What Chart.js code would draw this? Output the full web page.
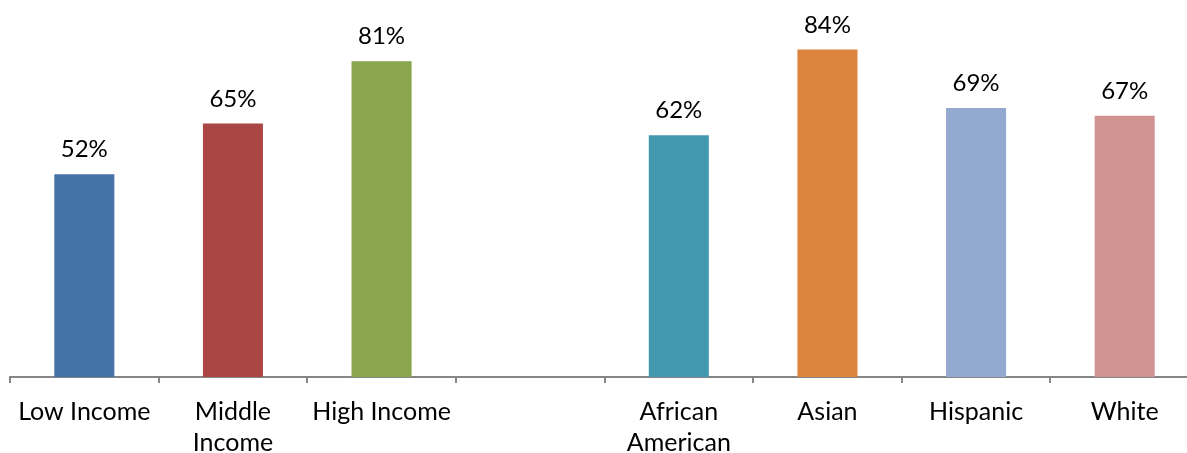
<!DOCTYPE html>
<html>
<head>
<meta charset="utf-8">
<script src="https://cdn.jsdelivr.net/npm/chart.js@4"></script>
<style>
  html, body { margin: 0; padding: 0; background: #fff; overflow: hidden; }
  #wrap { width: 1187px; height: 453px; overflow: hidden; }
  canvas { display: block; }
</style>
</head>
<body>
<div id="wrap"><canvas id="chart" width="1200" height="453"></canvas></div>
<script>
// --- Chart data ---
const categories = [['Low Income'], ['Middle', 'Income'], ['High Income'], '', ['African', 'American'], ['Asian'], ['Hispanic'], ['White']];
const percentages = [52, 65, 81, null, 62, 84, 69, 67];
const barColors = ['#4572A7', '#AA4643', '#89A54E', '#FFFFFF', '#4198AF', '#DB843D', '#93A9CF', '#D19392'];

const fontFamily = 'Lato, "Open Sans", sans-serif';

// --- Simple value label plugin ---
const valueLabels = {
    id: 'valueLabels',
    afterDatasetsDraw(chart) {
        const ctx = chart.ctx;
        const meta = chart.getDatasetMeta(0);
        ctx.save();
        ctx.font = `24px ${fontFamily}`;
        ctx.fillStyle = '#000';
        ctx.textAlign = 'center';
        ctx.textBaseline = 'alphabetic';
        meta.data.forEach((bar, i) => {
            const v = percentages[i];
            if (v === null) return;
            ctx.fillText(v + '%', bar.x, bar.y - 17);
        });
        ctx.restore();
    }
};

const ctx = document.getElementById('chart').getContext('2d');
new Chart(ctx, {
    type: 'bar',
    data: {
        labels: categories,
        datasets: [{
            data: percentages,
            backgroundColor: barColors,
            borderWidth: 0,
            categoryPercentage: 0.404,
            barPercentage: 1
        }]
    },
    options: {
        responsive: false,
        animation: false,
        layout: { padding: { left: 10, right: 1, top: 0, bottom: 0 } },
        plugins: { legend: { display: false }, tooltip: { enabled: false } },
        scales: {
            y: { display: false, min: 0, max: 96.7 },
            x: {
                offset: true,
                border: { display: true, color: '#868686', width: 2 },
                grid: { display: true, drawOnChartArea: false, drawTicks: true, tickLength: 6, color: '#868686', lineWidth: 2, offset: true },
                ticks: { color: '#000', font: { family: fontFamily, size: 25, lineHeight: 1.24 }, padding: 13, maxRotation: 0, autoSkip: false },
                afterFit(scale) { scale.height = 76; }
            }
        }
    },
    plugins: [valueLabels]
});
</script>
</body>
</html>
